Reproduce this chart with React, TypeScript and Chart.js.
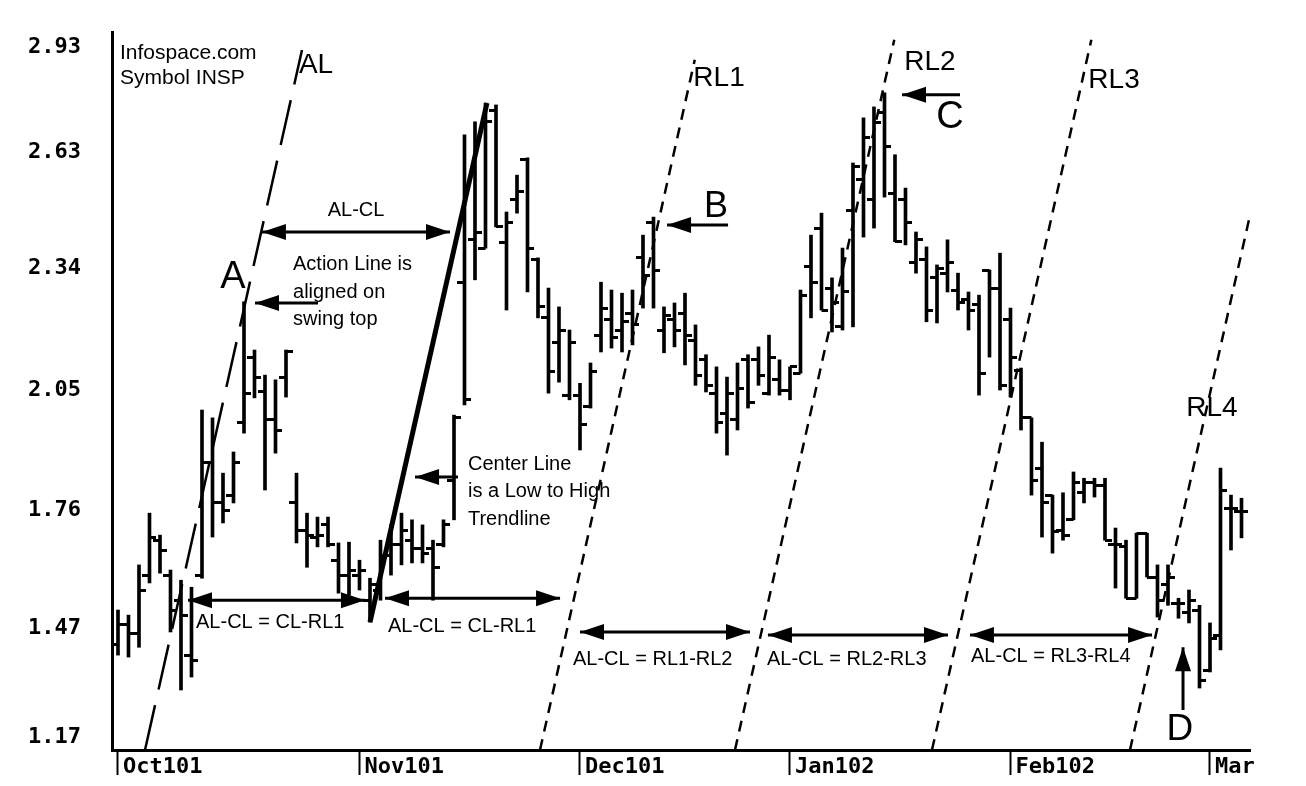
import React, { useEffect, useRef } from 'react';
import { Chart, registerables } from 'chart.js';

Chart.register(...registerables);

// ---- OHLC data (one bar per trading day, Oct 2001 - early Mar 2002) ----
const highs = [
  1.494, 1.481, 1.609, 1.741, 1.685, 1.596, 1.570, 1.552,
  2.004, 1.984, 1.843, 1.897, 2.280, 2.157, 2.093, 2.081, 2.157,
  1.843, 1.741, 1.731, 1.731, 1.665, 1.667, 1.621, 1.575,
  1.672, 1.711, 1.741, 1.724, 1.711, 1.672, 1.724, 1.991,
  2.706, 2.739, 2.787, 2.782, 2.509, 2.603, 2.647,
  2.392, 2.315, 2.267, 2.208, 2.072, 2.124, 2.330, 2.310, 2.302, 2.310,
  2.450, 2.496, 2.267, 2.277, 2.302, 2.221, 2.145, 2.114, 2.088, 2.124,
  2.145, 2.165, 2.195, 2.132, 2.114, 2.310, 2.450, 2.506, 2.341, 2.417,
  2.634, 2.749, 2.777, 2.813, 2.655, 2.570, 2.458, 2.420, 2.374, 2.438,
  2.353, 2.305, 2.297, 2.361, 2.404, 2.264, 2.111, 1.984, 1.922, 1.787,
  1.793, 1.846, 1.830, 1.830, 1.830, 1.703, 1.672, 1.690, 1.690, 1.609,
  1.609, 1.524, 1.545, 1.506, 1.461, 1.856, 1.787, 1.779,
];
const lows = [
  1.379, 1.374, 1.399, 1.563, 1.588, 1.438, 1.290, 1.323,
  1.575, 1.680, 1.716, 1.767, 1.945, 2.035, 1.800, 1.894, 2.037,
  1.665, 1.603, 1.655, 1.655, 1.537, 1.532, 1.545, 1.463,
  1.519, 1.583, 1.609, 1.614, 1.614, 1.519, 1.655, 1.724,
  2.017, 2.336, 2.417, 2.471, 2.259, 2.506, 2.305,
  2.239, 2.047, 2.075, 2.030, 1.902, 2.009, 2.152, 2.162, 2.152, 2.170,
  2.264, 2.264, 2.150, 2.165, 2.119, 2.067, 2.050, 1.945, 1.889, 1.953,
  2.009, 2.067, 2.042, 2.042, 2.030, 2.098, 2.239, 2.259, 2.203, 2.208,
  2.216, 2.445, 2.468, 2.547, 2.433, 2.425, 2.353, 2.229, 2.226, 2.305,
  2.259, 2.208, 2.042, 2.139, 2.055, 2.037, 1.953, 1.787, 1.680, 1.639,
  1.672, 1.724, 1.767, 1.782, 1.672, 1.550, 1.524, 1.524, 1.578, 1.476,
  1.506, 1.473, 1.461, 1.295, 1.336, 1.392, 1.647, 1.678,
];
const opens = [
  1.405, 1.456, 1.435, 1.583, 1.672, 1.583, 1.519, 1.379,
  1.583, 1.871, 1.769, 1.787, 1.971, 2.137, 2.050, 1.979, 2.088,
  1.767, 1.698, 1.680, 1.711, 1.621, 1.583, 1.583, 1.519,
  1.545, 1.634, 1.660, 1.672, 1.652, 1.652, 1.660, 1.825,
  2.330, 2.438, 2.417, 2.769, 2.430, 2.540, 2.642,
  2.387, 2.241, 2.177, 2.042, 2.042, 2.012, 2.195, 2.234, 2.208, 2.251,
  2.392, 2.483, 2.208, 2.234, 2.251, 2.182, 2.132, 2.047, 1.996, 1.979,
  2.132, 2.132, 2.047, 2.081, 2.055, 2.098, 2.369, 2.468, 2.315, 2.216,
  2.514, 2.591, 2.540, 2.762, 2.557, 2.540, 2.381, 2.387, 2.341, 2.353,
  2.310, 2.285, 2.272, 2.361, 2.315, 2.234, 2.106, 1.984, 1.856, 1.787,
  1.698, 1.724, 1.793, 1.820, 1.812, 1.660, 1.655, 1.524, 1.690, 1.578,
  1.558, 1.511, 1.488, 1.494, 1.341, 1.430, 1.754, 1.744,
];
const closes = [
  1.456, 1.435, 1.545, 1.678, 1.647, 1.494, 1.481, 1.366,
  1.871, 1.769, 1.749, 1.871, 2.047, 2.088, 1.979, 1.953, 2.152,
  1.698, 1.685, 1.685, 1.660, 1.583, 1.596, 1.596, 1.558,
  1.634, 1.660, 1.698, 1.652, 1.639, 1.603, 1.711, 1.984,
  2.030, 2.456, 2.739, 2.471, 2.481, 2.560, 2.417,
  2.267, 2.101, 2.208, 2.175, 1.966, 2.101, 2.264, 2.188, 2.229, 2.221,
  2.348, 2.361, 2.246, 2.208, 2.195, 2.093, 2.067, 1.971, 2.047, 2.060,
  2.022, 2.093, 2.139, 2.055, 2.114, 2.297, 2.330, 2.259, 2.277, 2.305,
  2.624, 2.698, 2.736, 2.675, 2.433, 2.481, 2.438, 2.259, 2.366, 2.381,
  2.277, 2.259, 2.098, 2.315, 2.067, 2.139, 1.984, 1.825, 1.767, 1.693,
  1.685, 1.820, 1.820, 1.812, 1.672, 1.660, 1.524, 1.690, 1.578, 1.519,
  1.578, 1.511, 1.519, 1.315, 1.422, 1.800, 1.754, 1.744,
];

// ---- axes ----
const monthStarts = [0, 23, 44, 64, 85, 104];
const monthLabels = ['Oct101', 'Nov101', 'Dec101', 'Jan102', 'Feb102', 'Mar'];
const yTickValues = [2.930, 2.662, 2.366, 2.055, 1.749, 1.448, 1.170];
const yTickLabels = ['2.93', '2.63', '2.34', '2.05', '1.76', '1.47', '1.17'];

// ---- Andrews pitchfork style trend lines: [barIndex, price] endpoints ----
const alLine = [[2.571, 1.137], [17.524, 2.922]];
const clLine = [[24.0, 1.463], [35.14, 2.787]];
const rl1Line = [[40.19, 1.137], [54.93, 2.897]];
const rl2Line = [[58.76, 1.137], [73.93, 2.948]];
const rl3Line = [[77.52, 1.137], [92.70, 2.948]];
const rl4Line = [[96.38, 1.137], [107.81, 2.501]];

// ---- annotations in data units ----
const noteTexts = [
  { t: 'Infospace.com', x: 0.19, y: 2.915, size: 21, align: 'left' },
  { t: 'Symbol INSP', x: 0.19, y: 2.851, size: 21, align: 'left' },
  { t: 'AL', x: 18.86, y: 2.882, size: 28, align: 'center' },
  { t: 'RL1', x: 57.24, y: 2.851, size: 28, align: 'center' },
  { t: 'RL2', x: 77.33, y: 2.892, size: 28, align: 'center' },
  { t: 'RL3', x: 94.86, y: 2.846, size: 28, align: 'center' },
  { t: 'RL4', x: 104.19, y: 2.009, size: 28, align: 'center' },
  { t: 'A', x: 10.95, y: 2.341, size: 38, align: 'center' },
  { t: 'B', x: 56.95, y: 2.522, size: 36, align: 'center' },
  { t: 'C', x: 79.24, y: 2.749, size: 38, align: 'center' },
  { t: 'D', x: 101.14, y: 1.188, size: 37, align: 'center' },
  { t: 'AL-CL', x: 22.67, y: 2.514, size: 20, align: 'center' },
  { t: 'Action Line is', x: 16.67, y: 2.376, size: 20, align: 'left' },
  { t: 'aligned on', x: 16.67, y: 2.305, size: 20, align: 'left' },
  { t: 'swing top', x: 16.67, y: 2.236, size: 20, align: 'left' },
  { t: 'Center Line', x: 33.33, y: 1.866, size: 20, align: 'left' },
  { t: 'is a Low to High', x: 33.33, y: 1.795, size: 20, align: 'left' },
  { t: 'Trendline', x: 33.33, y: 1.726, size: 20, align: 'left' },
  { t: 'AL-CL = CL-RL1', x: 7.43, y: 1.463, size: 20, align: 'left' },
  { t: 'AL-CL = CL-RL1', x: 25.71, y: 1.453, size: 20, align: 'left' },
  { t: 'AL-CL = RL1-RL2', x: 43.33, y: 1.369, size: 20, align: 'left' },
  { t: 'AL-CL = RL2-RL3', x: 61.81, y: 1.369, size: 20, align: 'left' },
  { t: 'AL-CL = RL3-RL4', x: 81.24, y: 1.376, size: 20, align: 'left' },
];
const arrowNotes = [
  { x1: 19.05, y1: 2.277, x2: 13.05, y2: 2.277, both: false },
  { x1: 13.71, y1: 2.458, x2: 31.62, y2: 2.458, both: true },
  { x1: 32.38, y1: 1.833, x2: 28.29, y2: 1.833, both: false },
  { x1: 58.10, y1: 2.476, x2: 52.29, y2: 2.476, both: false },
  { x1: 80.19, y1: 2.808, x2: 74.67, y2: 2.808, both: false },
  { x1: 101.43, y1: 1.239, x2: 101.43, y2: 1.399, both: false },
  { x1: 6.67, y1: 1.519, x2: 23.52, y2: 1.519, both: true },
  { x1: 25.43, y1: 1.524, x2: 42.10, y2: 1.524, both: true },
  { x1: 44.0, y1: 1.438, x2: 60.19, y2: 1.438, both: true },
  { x1: 61.90, y1: 1.430, x2: 79.05, y2: 1.430, both: true },
  { x1: 81.14, y1: 1.430, x2: 98.48, y2: 1.430, both: true },
];

const X_MIN = -0.571;
const X_MAX = 107.81;
const Y_MIN = 1.137;
const Y_MAX = 2.968;

function head(ctx: CanvasRenderingContext2D, x: number, y: number, ang: number) {
  const L = 24;
  const W = 8;
  ctx.beginPath();
  ctx.moveTo(x, y);
  ctx.lineTo(x - L * Math.cos(ang) + W * Math.sin(ang), y - L * Math.sin(ang) - W * Math.cos(ang));
  ctx.lineTo(x - L * Math.cos(ang) - W * Math.sin(ang), y - L * Math.sin(ang) + W * Math.cos(ang));
  ctx.closePath();
  ctx.fill();
}

const notesPlugin = {
  id: 'notes',
  afterDatasetsDraw(chart: any) {
    const { ctx, scales } = chart;
    const sx = scales.x;
    const sy = scales.y;
    ctx.save();
    ctx.fillStyle = '#000';
    ctx.strokeStyle = '#000';
    ctx.lineWidth = 3;
    for (const a of arrowNotes) {
      const x1 = sx.getPixelForValue(a.x1);
      const y1 = sy.getPixelForValue(a.y1);
      const x2 = sx.getPixelForValue(a.x2);
      const y2 = sy.getPixelForValue(a.y2);
      ctx.beginPath();
      ctx.moveTo(x1, y1);
      ctx.lineTo(x2, y2);
      ctx.stroke();
      const ang = Math.atan2(y2 - y1, x2 - x1);
      head(ctx, x2, y2, ang);
      if (a.both) head(ctx, x1, y1, ang + Math.PI);
    }
    for (const n of noteTexts) {
      ctx.font = `${n.size}px "Liberation Sans", Arial, sans-serif`;
      ctx.textAlign = n.align;
      ctx.textBaseline = 'middle';
      ctx.fillText(n.t, sx.getPixelForValue(n.x), sy.getPixelForValue(n.y));
    }
    ctx.restore();
  },
};

function tickImage(left: boolean) {
  const c = document.createElement('canvas');
  c.width = 14;
  c.height = 3;
  const g = c.getContext('2d');
  if (g) {
    g.fillStyle = '#000';
    g.fillRect(left ? 0 : 7, 0, 7, 3);
  }
  return c;
}

function lineDs(pts: number[][], width: number, dash: number[]) {
  return {
    type: 'line',
    data: pts.map((p) => ({ x: p[0], y: p[1] })),
    borderColor: '#000',
    borderWidth: width,
    borderDash: dash,
    pointRadius: 0,
    fill: false,
    tension: 0,
  };
}

export default function App() {
  const ref = useRef<HTMLCanvasElement | null>(null);

  useEffect(() => {
    if (!ref.current) return;
    const openImg = tickImage(true);
    const closeImg = tickImage(false);
    const rlDash = [11, 8];
    const chart = new Chart(ref.current, {
      type: 'bar',
      data: {
        datasets: [
          lineDs(clLine, 5, []),
          lineDs(alLine, 2.5, [46, 16]),
          lineDs(rl1Line, 2.5, rlDash),
          lineDs(rl2Line, 2.5, rlDash),
          lineDs(rl3Line, 2.5, rlDash),
          lineDs(rl4Line, 2.5, rlDash),
          {
            type: 'scatter',
            data: opens.map((v, i) => ({ x: i, y: v })),
            pointStyle: openImg,
            pointRadius: 4,
          },
          {
            type: 'scatter',
            data: closes.map((v, i) => ({ x: i, y: v })),
            pointStyle: closeImg,
            pointRadius: 4,
          },
          {
            type: 'bar',
            data: lows.map((l, i) => ({ x: i, y: [l, highs[i]] })),
            backgroundColor: '#000',
            borderWidth: 0,
            barThickness: 3,
            grouped: false,
          },
        ] as any,
      },
      options: {
        responsive: false,
        animation: false,
        events: [],
        layout: { padding: { top: 32, right: 56, left: 0, bottom: 0 } },
        plugins: { legend: { display: false }, tooltip: { enabled: false } },
        scales: {
          x: {
            type: 'linear',
            min: X_MIN,
            max: X_MAX,
            offset: false,
            afterBuildTicks: (s: any) => {
              s.ticks = monthStarts.map((v) => ({ value: v }));
            },
            afterFit: (s: any) => {
              s.height = 36;
            },
            grid: {
              drawOnChartArea: false,
              drawTicks: true,
              tickLength: 25,
              tickWidth: 2,
              color: '#000',
              offset: false,
            },
            border: { display: true, color: '#000', width: 3 },
            ticks: {
              autoSkip: false,
              maxRotation: 0,
              minRotation: 0,
              align: 'start',
              labelOffset: 5,
              padding: -21,
              color: '#000',
              font: { family: '"DejaVu Sans Mono", monospace', size: 22, weight: 'bold' },
              callback: (_v: any, i: number) => monthLabels[i],
            },
          },
          y: {
            type: 'linear',
            min: Y_MIN,
            max: Y_MAX,
            beginAtZero: false,
            afterBuildTicks: (s: any) => {
              s.ticks = yTickValues.map((v) => ({ value: v }));
            },
            afterFit: (s: any) => {
              s.width = 112;
            },
            grid: { display: false, drawTicks: false },
            border: { display: true, color: '#000', width: 3 },
            ticks: {
              padding: 31,
              color: '#000',
              font: { family: '"DejaVu Sans Mono", monospace', size: 22, weight: 'bold', lineHeight: 0.05 },
              callback: (_v: any, i: number) => yTickLabels[i],
            },
          },
        },
      } as any,
      plugins: [notesPlugin as any],
    });
    return () => chart.destroy();
  }, []);

  return (
    <div style={{ position: 'fixed', left: 0, top: 0, width: 1306, height: 786, background: '#fff' }}>
      <canvas ref={ref} width={1306} height={786} style={{ display: 'block' }} />
    </div>
  );
}
